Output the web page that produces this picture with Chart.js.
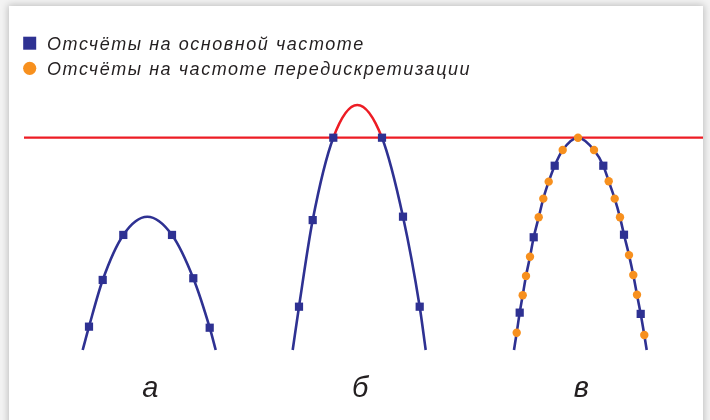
<!DOCTYPE html>
<html lang="ru">
<head>
<meta charset="utf-8">
<title>Отсчёты на основной частоте и частоте передискретизации</title>
<script src="https://cdn.jsdelivr.net/npm/chart.js@4.4.1/dist/chart.umd.min.js"></script>
<style>
    html, body {
        margin: 0;
        padding: 0;
        width: 710px;
        height: 420px;
        overflow: hidden;
        background: #f3f3f3;
    }
    .panel {
        position: absolute;
        left: 9px;
        top: 6px;
        width: 694px;
        height: 430px;
        background: #ffffff;
        box-shadow: 0 0 7px 1px rgba(0, 0, 0, 0.22);
    }
    .chart-box {
        position: absolute;
        left: 0;
        top: 0;
        width: 710px;
        height: 420px;
    }
</style>
</head>
<body>
<div class="panel"></div>
<div class="chart-box"><canvas id="clipChart"></canvas></div>
<script>
// Amplitude units: 0 = foot of the curves, 1 = clipping level (red line)
const clipLevel = 1.0;

const panelLabels = ['а', 'б', 'в'];
const legendLabels = ['Отсчёты на основной частоте', 'Отсчёты на частоте передискретизации'];

// Curve а
const curveAEndsX = [8.27, 21.57];
const curveAPeakX = [14.73];
const curveAPeakY = [0.628];
const curveASamplesX = [8.9, 10.27, 12.33, 17.2, 19.33, 20.97];
const curveASamplesY = [0.11, 0.33, 0.542, 0.542, 0.338, 0.105];

// Curve б (top goes above the clipping level)
const curveBEndsX = [29.27, 42.57];
const curveBPeakX = [35.73];
const curveBPeakY = [1.154];
const curveBSamplesX = [29.9, 31.27, 33.33, 38.2, 40.3, 41.97];
const curveBSamplesY = [0.204, 0.612, 1.0, 1.0, 0.628, 0.204];

// Curve в (base rate + oversampled points)
const curveVEndsX = [51.4, 64.67];
const curveVSamplesX = [51.97, 53.37, 55.47, 60.33, 62.4, 64.07];
const curveVSamplesY = [0.176, 0.531, 0.868, 0.868, 0.543, 0.17];
const curveVOverX = [51.67, 52.27, 52.6, 53.0, 53.87, 54.33, 54.87, 56.27, 57.8,
    59.4, 60.87, 61.47, 62.0, 62.9, 63.33, 63.7, 64.43];
const curveVOverY = [0.081, 0.258, 0.349, 0.439, 0.625, 0.713, 0.793, 0.942, 1.0,
    0.942, 0.795, 0.713, 0.625, 0.447, 0.353, 0.26, 0.071];

// Red clipping line
const clipLineX = [2.4, 70.3];

const colors = {
    blue: '#2e3192',
    orange: '#f7901e',
    red: '#ed1c24',
    text: '#231f20'
};

function toPoints(xs, ys) {
    return xs.map((x, i) => ({ x: x, y: ys[i] }));
}

function buildCurve(endsX, groups) {
    let pts = endsX.map(x => ({ x: x, y: 0 }));
    groups.forEach(g => { pts = pts.concat(toPoints(g[0], g[1])); });
    return pts.sort((a, b) => a.x - b.x);
}

const curveA = buildCurve(curveAEndsX, [[curveAPeakX, curveAPeakY], [curveASamplesX, curveASamplesY]]);
const curveB = buildCurve(curveBEndsX, [[curveBPeakX, curveBPeakY], [curveBSamplesX, curveBSamplesY]]);
const curveV = buildCurve(curveVEndsX, [[curveVSamplesX, curveVSamplesY], [curveVOverX, curveVOverY]]);

const baseSamples = toPoints(curveASamplesX, curveASamplesY)
    .concat(toPoints(curveBSamplesX, curveBSamplesY))
    .concat(toPoints(curveVSamplesX, curveVSamplesY));
const overSamples = toPoints(curveVOverX, curveVOverY);

function curveDataset(points, extra) {
    return Object.assign({
        data: points,
        showLine: true,
        borderColor: colors.blue,
        borderWidth: 2.6,
        pointRadius: 0,
        cubicInterpolationMode: 'monotone',
        fill: false
    }, extra || {});
}

// Legend and panel letters are drawn by hand on top of the chart
const annotationsPlugin = {
    id: 'annotations',
    afterDraw(chart) {
        const ctx = chart.ctx;
        const xs = chart.scales.x;
        ctx.save();
        ctx.fillStyle = colors.text;
        ctx.textBaseline = 'alphabetic';
        ctx.textAlign = 'left';
        ctx.font = 'italic 18px "Liberation Sans", Arial, sans-serif';
        if ('letterSpacing' in ctx) ctx.letterSpacing = '1.55px';

        // legend
        ctx.fillStyle = colors.blue;
        ctx.fillRect(23.2, 36.7, 13, 13);
        ctx.fillStyle = colors.orange;
        ctx.beginPath();
        ctx.arc(29.7, 68.3, 6.6, 0, Math.PI * 2);
        ctx.fill();
        ctx.fillStyle = colors.text;
        ctx.fillText(legendLabels[0], 47, 49.5);
        ctx.fillText(legendLabels[1], 47, 74.8);

        // а, б, в under each curve
        if ('letterSpacing' in ctx) ctx.letterSpacing = '0px';
        ctx.font = 'italic 29px "Liberation Sans", Arial, sans-serif';
        ctx.textAlign = 'center';
        const ends = [curveAEndsX, curveBEndsX, curveVEndsX];
        panelLabels.forEach((lbl, i) => {
            const mid = (ends[i][0] + ends[i][1]) / 2;
            ctx.fillText(lbl, xs.getPixelForValue(mid) + 1, 397);
        });
        ctx.restore();
    }
};

function renderClipChart() {
    const ctx = document.getElementById('clipChart').getContext('2d');

    const data = {
        datasets: [
            {
                label: legendLabels[1],
                data: overSamples,
                showLine: false,
                pointStyle: 'circle',
                pointRadius: 4.2,
                pointBackgroundColor: colors.orange,
                pointBorderWidth: 0
            },
            {
                label: legendLabels[0],
                data: baseSamples,
                showLine: false,
                pointStyle: 'rect',
                pointRadius: 5.8,
                pointBackgroundColor: colors.blue,
                pointBorderWidth: 0
            },
            curveDataset(curveA),
            curveDataset(curveB, {
                segment: {
                    borderColor: c => (c.p0.parsed.y >= clipLevel && c.p1.parsed.y >= clipLevel) ? colors.red : undefined
                }
            }),
            curveDataset(curveV),
            {
                data: toPoints(clipLineX, [clipLevel, clipLevel]),
                showLine: true,
                borderColor: colors.red,
                borderWidth: 2.2,
                pointRadius: 0
            }
        ]
    };

    const options = {
        responsive: true,
        maintainAspectRatio: false,
        animation: false,
        events: [],
        layout: { padding: 0, autoPadding: false },
        plugins: {
            legend: { display: false },
            tooltip: { enabled: false }
        },
        scales: {
            x: { type: 'linear', min: 0, max: 71, display: false },
            y: { type: 'linear', min: -0.3297, max: 1.6486, display: false }
        }
    };

    return new Chart(ctx, {
        type: 'scatter',
        data: data,
        options: options,
        plugins: [annotationsPlugin]
    });
}

document.addEventListener('DOMContentLoaded', () => {
    renderClipChart();
});
</script>
</body>
</html>
